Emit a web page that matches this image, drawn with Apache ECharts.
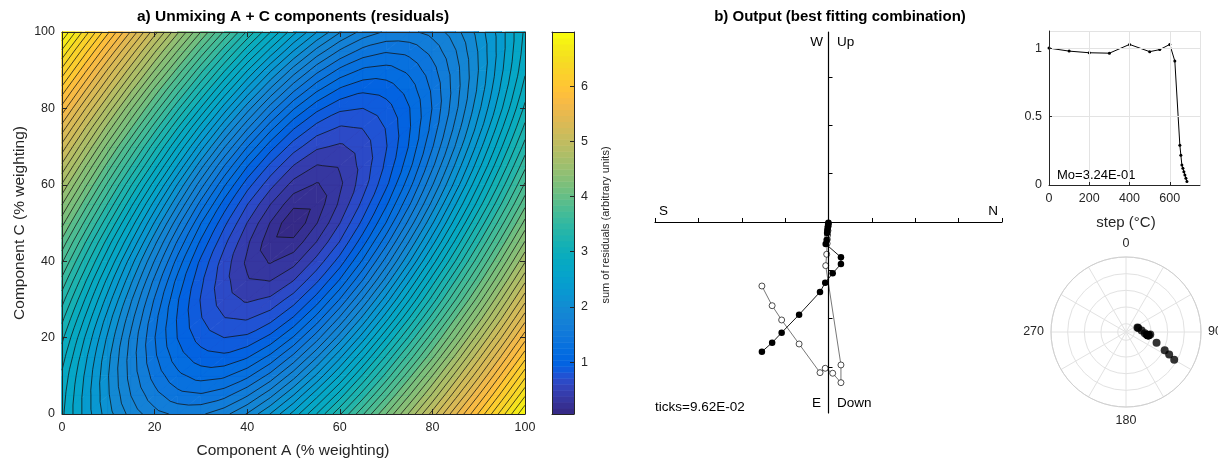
<!DOCTYPE html>
<html><head><meta charset="utf-8">
<script src="https://cdn.jsdelivr.net/npm/echarts@6/dist/echarts.min.js"></script>
<style>html,body{margin:0;padding:0;background:#fff}#c{width:1218px;height:461px}</style>
</head><body><div id="c"></div>
<script>
// ---------------- data ----------------
const compA = [0,5,10,15,20,25,30,35,40,45,50,55,60,65,70,75,80,85,90,95,100];
const compC = [0,5,10,15,20,25,30,35,40,45,50,55,60,65,70,75,80,85,90,95,100];
// sum of residuals, one row per Component C value (0..100), one column per Component A value (0..100)
const residuals = [
  [2.86,2.50,2.19,1.94,1.77,1.69,1.70,1.81,2.01,2.28,2.60,2.97,3.36,3.78,4.21,4.65,5.10,5.57,6.03,6.50,6.98],
  [2.89,2.50,2.15,1.85,1.63,1.49,1.46,1.53,1.70,1.95,2.27,2.64,3.03,3.45,3.89,4.34,4.79,5.26,5.73,6.20,6.68],
  [2.94,2.53,2.14,1.80,1.53,1.34,1.25,1.28,1.41,1.63,1.94,2.30,2.70,3.13,3.57,4.03,4.49,4.96,5.43,5.91,6.39],
  [3.03,2.59,2.17,1.79,1.47,1.23,1.09,1.06,1.15,1.34,1.62,1.98,2.38,2.81,3.26,3.72,4.18,4.66,5.14,5.62,6.10],
  [3.14,2.68,2.24,1.82,1.45,1.16,0.97,0.89,0.92,1.07,1.32,1.66,2.06,2.49,2.95,3.41,3.89,4.36,4.85,5.33,5.82],
  [3.28,2.81,2.34,1.90,1.49,1.15,0.90,0.76,0.74,0.84,1.05,1.36,1.75,2.18,2.64,3.11,3.59,4.08,4.56,5.05,5.54],
  [3.44,2.96,2.48,2.01,1.57,1.18,0.88,0.68,0.59,0.64,0.82,1.09,1.45,1.88,2.34,2.82,3.30,3.79,4.28,4.78,5.27],
  [3.62,3.13,2.64,2.16,1.69,1.26,0.92,0.66,0.49,0.47,0.61,0.86,1.18,1.59,2.05,2.54,3.03,3.52,4.01,4.51,5.01],
  [3.82,3.32,2.83,2.33,1.85,1.39,1.00,0.69,0.45,0.32,0.42,0.66,0.95,1.33,1.78,2.26,2.76,3.25,3.75,4.25,4.75],
  [4.03,3.53,3.03,2.54,2.04,1.56,1.14,0.79,0.50,0.25,0.24,0.48,0.76,1.11,1.53,2.01,2.50,3.00,3.50,4.00,4.50],
  [4.26,3.76,3.26,2.76,2.26,1.77,1.31,0.93,0.61,0.33,0.06,0.33,0.61,0.93,1.31,1.77,2.26,2.76,3.26,3.76,4.26],
  [4.50,4.00,3.50,3.00,2.50,2.01,1.53,1.11,0.76,0.48,0.24,0.25,0.50,0.79,1.14,1.56,2.04,2.54,3.03,3.53,4.03],
  [4.75,4.25,3.75,3.25,2.76,2.26,1.78,1.33,0.95,0.66,0.42,0.32,0.45,0.69,1.00,1.39,1.85,2.33,2.83,3.32,3.82],
  [5.01,4.51,4.01,3.52,3.03,2.54,2.05,1.59,1.18,0.86,0.61,0.47,0.49,0.66,0.92,1.26,1.69,2.16,2.64,3.13,3.62],
  [5.27,4.78,4.28,3.79,3.30,2.82,2.34,1.88,1.45,1.09,0.82,0.64,0.59,0.68,0.88,1.18,1.57,2.01,2.48,2.96,3.44],
  [5.54,5.05,4.56,4.08,3.59,3.11,2.64,2.18,1.75,1.36,1.05,0.84,0.74,0.76,0.90,1.15,1.49,1.90,2.34,2.81,3.28],
  [5.82,5.33,4.85,4.36,3.89,3.41,2.95,2.49,2.06,1.66,1.32,1.07,0.92,0.89,0.97,1.16,1.45,1.82,2.24,2.68,3.14],
  [6.10,5.62,5.14,4.66,4.18,3.72,3.26,2.81,2.38,1.98,1.62,1.34,1.15,1.06,1.09,1.23,1.47,1.79,2.17,2.59,3.03],
  [6.39,5.91,5.43,4.96,4.49,4.03,3.57,3.13,2.70,2.30,1.94,1.63,1.41,1.28,1.25,1.34,1.53,1.80,2.14,2.53,2.94],
  [6.68,6.20,5.73,5.26,4.79,4.34,3.89,3.45,3.03,2.64,2.27,1.95,1.70,1.53,1.46,1.49,1.63,1.85,2.15,2.50,2.89],
  [6.98,6.50,6.03,5.57,5.10,4.65,4.21,3.78,3.36,2.97,2.60,2.28,2.01,1.81,1.70,1.69,1.77,1.94,2.19,2.50,2.86]
];
const contourCount = 49;
const colorbarTicks = [1,2,3,4,5,6];

const zijSteps = [0,100,200,300,400,500,550,600,625,650,655,660,665,670,675,680,685];
const zijN = [-0.1477,-0.1250,-0.1039,-0.0652,-0.0188,-0.0073,0.0093,0.0276,0.0276,-0.0062,-0.0040,-0.0030,-0.0025,-0.0020,-0.0012,-0.0006,-0.0002];
const zijE = [0.2583,0.2404,0.2205,0.1846,0.1394,0.1209,0.1022,0.0837,0.0703,0.0438,0.0359,0.0220,0.0175,0.0130,0.0087,0.0044,0.0014];
const zijD = [0.1275,0.1667,0.1952,0.2430,0.3001,0.2914,0.3013,0.3201,0.2848,0.0870,0.0643,0.0430,0.0345,0.0260,0.0173,0.0086,0.0029];
const zijTick = 0.0962;

const intSteps = [0,100,200,300,400,500,550,600,625,650,655,660,665,670,675,680,685];
const intRel = [1,0.978,0.966,0.963,1.027,0.974,0.989,1.027,0.905,0.29,0.218,0.146,0.122,0.097,0.073,0.05,0.025];

const polarDec = [120,117.5,115.2,109.5,97.7,93.5,84.8,71.7,68.6,98,96,97.8,98,98.8,98,98,98];
const polarInc = [23.2,31.6,38.7,51.1,64.9,67.4,71.2,74.6,75.2,63,60.7,62.7,62.8,63,63,63,64];

// ---------------- styles ----------------
const FONT = 'Liberation Sans, Arial, Helvetica, sans-serif';
const AX = '#262626';
const parula = [[0.2081,0.1663,0.5292],[0.2116,0.1898,0.5777],[0.2123,0.2138,0.6270],[0.2081,0.2386,0.6771],[0.1959,0.2645,0.7279],[0.1707,0.2919,0.7792],[0.1253,0.3242,0.8303],[0.0591,0.3598,0.8683],[0.0117,0.3875,0.8820],[0.0060,0.4086,0.8828],[0.0165,0.4266,0.8786],[0.0329,0.4430,0.8720],[0.0498,0.4586,0.8641],[0.0629,0.4737,0.8554],[0.0723,0.4887,0.8467],[0.0779,0.5040,0.8384],[0.0793,0.5200,0.8312],[0.0749,0.5375,0.8263],[0.0641,0.5570,0.8240],[0.0488,0.5772,0.8228],[0.0343,0.5966,0.8199],[0.0265,0.6137,0.8135],[0.0239,0.6287,0.8038],[0.0231,0.6418,0.7913],[0.0228,0.6535,0.7768],[0.0267,0.6642,0.7607],[0.0384,0.6743,0.7436],[0.0590,0.6838,0.7254],[0.0843,0.6928,0.7062],[0.1133,0.7015,0.6859],[0.1453,0.7098,0.6646],[0.1801,0.7177,0.6424],[0.2178,0.7250,0.6193],[0.2586,0.7317,0.5954],[0.3022,0.7376,0.5712],[0.3482,0.7424,0.5473],[0.3953,0.7459,0.5244],[0.4420,0.7481,0.5033],[0.4871,0.7491,0.4840],[0.5300,0.7491,0.4661],[0.5709,0.7485,0.4494],[0.6099,0.7473,0.4337],[0.6473,0.7456,0.4188],[0.6834,0.7435,0.4044],[0.7184,0.7411,0.3905],[0.7525,0.7384,0.3768],[0.7858,0.7356,0.3633],[0.8185,0.7327,0.3498],[0.8507,0.7299,0.3360],[0.8824,0.7274,0.3217],[0.9139,0.7258,0.3063],[0.9450,0.7261,0.2886],[0.9739,0.7314,0.2666],[0.9938,0.7455,0.2403],[0.9990,0.7653,0.2164],[0.9955,0.7861,0.1967],[0.9880,0.8066,0.1794],[0.9789,0.8271,0.1633],[0.9697,0.8481,0.1475],[0.9626,0.8705,0.1309],[0.9589,0.8949,0.1132],[0.9598,0.9218,0.0948],[0.9661,0.9514,0.0755],[0.9763,0.9831,0.0538]];

let zMin = Infinity, zMax = -Infinity;
residuals.forEach(r => r.forEach(v => { if (v < zMin) zMin = v; if (v > zMax) zMax = v; }));
const levels = [];
for (let k = 1; k <= contourCount; k++) levels.push(zMin + k * (zMax - zMin) / (contourCount + 1));
function cmap(v) {
  let idx = Math.floor((v - zMin) / (zMax - zMin) * 64);
  idx = Math.max(0, Math.min(63, idx));
  const c = parula[idx];
  return 'rgb(' + Math.round(c[0]*255) + ',' + Math.round(c[1]*255) + ',' + Math.round(c[2]*255) + ')';
}
function clipAbove(P, V, L) {
  const out = [];
  for (let k = 0; k < P.length; k++) {
    const a = P[k], b = P[(k+1) % P.length], va = V[k], vb = V[(k+1) % P.length];
    const ia = va >= L, ib = vb >= L;
    if (ia) out.push(a);
    if (ia !== ib) { const t = (L - va) / (vb - va); out.push([a[0] + t*(b[0]-a[0]), a[1] + t*(b[1]-a[1])]); }
  }
  return out;
}
function cellTris(api) {
  const i = api.value(0), j = api.value(1);
  const p00 = api.coord([compA[i], compC[j]]), p10 = api.coord([compA[i+1], compC[j]]);
  const p01 = api.coord([compA[i], compC[j+1]]), p11 = api.coord([compA[i+1], compC[j+1]]);
  const v00 = residuals[j][i], v10 = residuals[j][i+1], v01 = residuals[j+1][i], v11 = residuals[j+1][i+1];
  return [[[p00,p10,p11],[v00,v10,v11]], [[p00,p11,p01],[v00,v11,v01]]];
}
function renderFill(params, api) {
  const children = [];
  cellTris(api).forEach(([P, V]) => {
    const vmin = Math.min(...V), vmax = Math.max(...V);
    let base = zMin;
    levels.forEach(L => { if (L <= vmin) base = L; });
    const cb = cmap(base);
    children.push({type:'polygon', shape:{points:P}, style:{fill:cb, stroke:cb, lineWidth:0.7}});
    levels.forEach(L => {
      if (L > vmin && L < vmax) {
        const c = clipAbove(P, V, L);
        if (c.length >= 3) { const cc = cmap(L); children.push({type:'polygon', shape:{points:c}, style:{fill:cc, stroke:cc, lineWidth:0.7}}); }
      }
    });
  });
  return {type:'group', children};
}
function renderLines(params, api) {
  const children = [];
  cellTris(api).forEach(([P, V]) => {
    const vmin = Math.min(...V), vmax = Math.max(...V);
    levels.forEach(L => {
      if (L > vmin && L < vmax) {
        const pts = [];
        for (let k = 0; k < 3; k++) {
          const a = P[k], b = P[(k+1)%3], va = V[k], vb = V[(k+1)%3];
          if ((va - L) * (vb - L) < 0) { const t = (L - va) / (vb - va); pts.push([a[0]+t*(b[0]-a[0]), a[1]+t*(b[1]-a[1])]); }
        }
        if (pts.length === 2) children.push({type:'line', shape:{x1:pts[0][0], y1:pts[0][1], x2:pts[1][0], y2:pts[1][1]}, style:{stroke:'#111', lineWidth:0.75}});
      }
    });
  });
  return {type:'group', children};
}
const cells = [];
for (let j = 0; j < compC.length - 1; j++) for (let i = 0; i < compA.length - 1; i++) cells.push([i, j]);
const cbBands = [];
for (let k = 0; k < 64; k++) cbBands.push([k]);

function boxAxis(grid, pos, opt) {
  return Object.assign({gridIndex:grid, type:'value', position:pos, z:10,
    axisLine:{show:true, onZero:false, lineStyle:{color:AX, width:1}},
    axisTick:{show:true, inside:true, length:5, lineStyle:{color:AX}},
    axisLabel:{show:false, color:AX, fontSize:12, fontFamily:FONT, margin:7},
    splitLine:{show:false}}, opt);
}
const lbl = {show:true, color:AX, fontSize:12.5, fontFamily:FONT, margin:7};

const option = {
  animation:false,
  backgroundColor:'#fff',
  grid:[
    {left:62, top:32, width:463, height:382},
    {left:552, top:32, width:22, height:382},
    {left:655, top:32, width:347, height:381},
    {left:1049, top:31, width:151, height:154}
  ],
  xAxis:[
    boxAxis(0,'bottom',{min:0,max:100,interval:20, axisLabel:lbl}),
    boxAxis(0,'top',{min:0,max:100,interval:20}),
    boxAxis(1,'bottom',{min:0,max:1, axisTick:{show:false}}),
    boxAxis(1,'top',{min:0,max:1, axisTick:{show:false}}),
    {gridIndex:2, type:'value', min:-4*zijTick, max:4*zijTick, interval:zijTick, z:10,
      axisLine:{show:true, onZero:true, lineStyle:{color:'#000', width:1.2}},
      axisTick:{show:true, inside:true, length:4, lineStyle:{color:'#000', width:1}},
      axisLabel:{show:false}, splitLine:{show:false}},
    {gridIndex:3, type:'value', min:0, max:750, interval:200, z:10,
      axisLine:{show:true, onZero:false, lineStyle:{color:AX}},
      axisTick:{show:true, inside:true, length:3, lineStyle:{color:AX}},
      axisLabel:Object.assign({}, lbl, {showMaxLabel:false}),
      splitLine:{show:true, lineStyle:{color:'#e3e3e3', width:1}}}
  ],
  yAxis:[
    boxAxis(0,'left',{min:0,max:100,interval:20, axisLabel:lbl}),
    boxAxis(0,'right',{min:0,max:100,interval:20}),
    boxAxis(1,'left',{min:zMin,max:zMax, axisTick:{show:false}}),
    boxAxis(1,'right',{min:zMin,max:zMax, axisTick:{show:true, inside:true, length:4, customValues:colorbarTicks, lineStyle:{color:AX}}, axisLabel:Object.assign({}, lbl, {customValues:colorbarTicks})}),
    {gridIndex:2, type:'value', min:-0.3805, max:0.3785, z:10,
      axisLine:{show:true, onZero:true, lineStyle:{color:'#000', width:1.2}},
      axisTick:{show:true, inside:true, length:4, customValues:[-3*zijTick,-2*zijTick,-zijTick,zijTick,2*zijTick,3*zijTick], lineStyle:{color:'#000', width:1}},
      axisLabel:{show:false}, splitLine:{show:false}},
    {gridIndex:3, type:'value', min:0, max:1.125, interval:0.5, z:10,
      axisLine:{show:true, onZero:false, lineStyle:{color:AX}},
      axisTick:{show:true, inside:true, length:3, lineStyle:{color:AX}},
      axisLabel:Object.assign({}, lbl, {showMaxLabel:false}),
      splitLine:{show:true, lineStyle:{color:'#e3e3e3', width:1}}}
  ],
  polar:{center:[1126,332], radius:75},
  angleAxis:{type:'value', min:0, max:360, interval:30, startAngle:90, clockwise:true,
    axisLine:{lineStyle:{color:'#cfcfcf', width:1}}, axisTick:{show:false},
    axisLabel:{color:AX, fontSize:12.5, fontFamily:FONT, margin:7, formatter: v => (v % 90 === 0 && v < 360) ? String(v) : ''},
    splitLine:{lineStyle:{color:'#e2e2e2', width:1}}},
  radiusAxis:{type:'value', min:0, max:90, interval:20, inverse:true,
    axisLine:{show:false}, axisTick:{show:false}, axisLabel:{show:false},
    splitLine:{lineStyle:{color:'#e2e2e2', width:1}}},
  series:[
    {type:'custom', xAxisIndex:0, yAxisIndex:0, renderItem:renderFill, data:cells, z:1, silent:true},
    {type:'custom', xAxisIndex:0, yAxisIndex:0, renderItem:renderLines, data:cells, z:2, silent:true},
    {type:'custom', xAxisIndex:2, yAxisIndex:3, silent:true, z:1, data:cbBands,
      renderItem:(params, api) => {
        const k = api.value(0);
        const lo = zMin + k*(zMax-zMin)/64, hi = zMin + (k+1)*(zMax-zMin)/64;
        const p1 = api.coord([0, hi]), p2 = api.coord([1, lo]);
        const c = cmap((lo+hi)/2);
        return {type:'rect', shape:{x:p1[0], y:p1[1], width:p2[0]-p1[0], height:p2[1]-p1[1]+0.5}, style:{fill:c}};
      }},
    {type:'line', xAxisIndex:4, yAxisIndex:4, data:zijN.map((n,i)=>[n,-zijD[i]]), symbol:'circle', symbolSize:6,
      lineStyle:{color:'#555', width:0.8}, itemStyle:{color:'#fff', borderColor:'#222', borderWidth:0.8}, z:3},
    {type:'line', xAxisIndex:4, yAxisIndex:4, data:zijN.map((n,i)=>[n,-zijE[i]]), symbol:'circle', symbolSize:6.5,
      lineStyle:{color:'#000', width:0.9}, itemStyle:{color:'#000'}, z:4},
    {type:'line', xAxisIndex:5, yAxisIndex:5, data:intSteps.map((s,i)=>[s,intRel[i]]), symbol:'circle', symbolSize:3,
      lineStyle:{color:'#000', width:1}, itemStyle:{color:'#000'}, z:4},
    {type:'scatter', coordinateSystem:'polar', data:polarInc.map((v,i)=>[v, polarDec[i]]), symbolSize:8, itemStyle:{color:'#000'}, z:4}
  ],
  graphic:[
    {type:'text', x:293, y:17, style:{text:'a) Unmixing A + C components (residuals)', font:'bold 15.5px '+FONT, fill:'#000', textAlign:'center', textVerticalAlign:'middle'}},
    {type:'text', x:293, y:451, style:{text:'Component A (% weighting)', font:'15.5px '+FONT, fill:AX, textAlign:'center', textVerticalAlign:'middle'}},
    {type:'text', x:20, y:223, rotation:Math.PI/2, style:{text:'Component C (% weighting)', font:'15.5px '+FONT, fill:AX, textAlign:'center', textVerticalAlign:'middle'}},
    {type:'text', x:606, y:225, rotation:Math.PI/2, style:{text:'sum of residuals (arbitrary units)', font:'11px '+FONT, fill:AX, textAlign:'center', textVerticalAlign:'middle'}},
    {type:'text', x:840, y:17, style:{text:'b) Output (best fitting combination)', font:'bold 15px '+FONT, fill:'#000', textAlign:'center', textVerticalAlign:'middle'}},
    {type:'text', x:823, y:42, style:{text:'W', font:'13.5px '+FONT, fill:'#000', textAlign:'right', textVerticalAlign:'middle'}},
    {type:'text', x:837, y:42, style:{text:'Up', font:'13.5px '+FONT, fill:'#000', textAlign:'left', textVerticalAlign:'middle'}},
    {type:'text', x:659, y:211, style:{text:'S', font:'13.5px '+FONT, fill:'#000', textAlign:'left', textVerticalAlign:'middle'}},
    {type:'text', x:998, y:211, style:{text:'N', font:'13.5px '+FONT, fill:'#000', textAlign:'right', textVerticalAlign:'middle'}},
    {type:'text', x:821, y:403, style:{text:'E', font:'13.5px '+FONT, fill:'#000', textAlign:'right', textVerticalAlign:'middle'}},
    {type:'text', x:837, y:403, style:{text:'Down', font:'13.5px '+FONT, fill:'#000', textAlign:'left', textVerticalAlign:'middle'}},
    {type:'text', x:655, y:407, style:{text:'ticks=9.62E-02', font:'13.5px '+FONT, fill:'#000', textAlign:'left', textVerticalAlign:'middle'}},
    {type:'text', x:1057, y:175, style:{text:'Mo=3.24E-01', font:'13px '+FONT, fill:'#000', textAlign:'left', textVerticalAlign:'middle'}},
    {type:'text', x:1126, y:223, style:{text:'step (°C)', font:'15px '+FONT, fill:AX, textAlign:'center', textVerticalAlign:'middle'}}
  ]
};
const chart = echarts.init(document.getElementById('c'), null, {renderer:'canvas'});
chart.setOption(option);
</script></body></html>
